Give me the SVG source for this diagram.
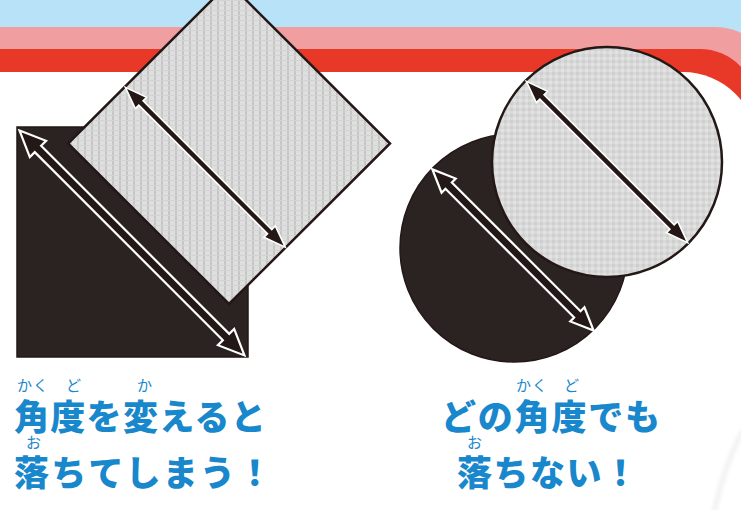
<svg xmlns="http://www.w3.org/2000/svg" width="741" height="510" viewBox="0 0 741 510">
<style>
.dark{fill:#2b2322;stroke:#231815;stroke-width:1.5}
.lite-sq{fill:url(#texSq);stroke:#231815;stroke-width:2.5;stroke-linejoin:miter}
.lite-ci{fill:url(#texCi);stroke:#231815;stroke-width:2.5}
.arrHollow{fill:#231815;stroke:#ffffff;stroke-width:2.2;stroke-linejoin:miter}
.arrSolid{fill:#231815;stroke:#ffffff;stroke-width:1.6;stroke-linejoin:miter}
.main{font-family:"Noto Sans CJK JP","Noto Sans CJK SC",sans-serif;font-weight:900;font-size:35px;fill:#1987cc}
.ruby{font-family:"Noto Sans CJK JP","Noto Sans CJK SC",sans-serif;font-weight:400;font-size:15px;fill:#1987cc}
</style>
<defs>
<pattern id="texSq" width="7" height="5" patternUnits="userSpaceOnUse">
<rect width="7" height="5" fill="#dedede"/>
<rect x="0" y="0" width="2" height="5" fill="#c6c6c6"/>
<rect x="0" y="0" width="7" height="1" fill="#d3d3d3"/>
</pattern>
<pattern id="texCi" width="6" height="6" patternUnits="userSpaceOnUse">
<rect width="6" height="6" fill="#d9d9d9"/>
<rect x="0" y="0" width="3" height="3" fill="#cfcfcf"/>
<rect x="3" y="3" width="3" height="3" fill="#e2e2e2"/>
</pattern>
<filter id="soft" x="-50%" y="-50%" width="200%" height="200%">
<feGaussianBlur stdDeviation="2"/>
</filter>
</defs>

<g id="background">
<rect x="0" y="0" width="741" height="510" fill="#ffffff"/>
<rect x="0" y="0" width="741" height="140" fill="#b8e2f8"/>
<path d="M0,27 H715 A60,60 0 0 1 775,87 V510 H0 Z" fill="#f19ea0"/>
<path d="M0,49 H700 A56,56 0 0 1 756,105 V510 H0 Z" fill="#e83828"/>
<path d="M0,72 H683 A74,74 0 0 1 757,146 V510 H0 Z" fill="#ffffff"/>
<path d="M743,430 Q724,466 714,512" fill="none" stroke="#eeeeee" stroke-width="4" filter="url(#soft)"/>
</g>

<g id="square-black">
<rect class="dark" x="17" y="127" width="231" height="230"/>
</g>
<g id="square-gray">
<polygon class="lite-sq" points="229,-17 390,143.5 229,304 68,143.5"/>
</g>

<g id="circle-black">
<circle class="dark" cx="514" cy="248" r="114" stroke="none"/>
</g>
<g id="circle-gray">
<circle class="lite-ci" cx="607" cy="162" r="115"/>
</g>

<g id="arrows">
<path class="arrHollow" transform="translate(132,243) rotate(45)" d="M-159,0 L-133,-11.5 L-133,-4.5 L133,-4.5 L133,-11.5 L159,0 L133,11.5 L133,4.5 L-133,4.5 L-133,11.5 Z"/>
<path class="arrSolid" transform="translate(205.3,167.3) rotate(45)" d="M-113,0 L-91,-8 L-91,-3 L91,-3 L91,-8 L113,0 L91,8 L91,3 L-91,3 L-91,8 Z"/>
<path class="arrHollow" transform="translate(513,250) rotate(45)" d="M-114,0 L-91,-10 L-91,-4.5 L91,-4.5 L91,-10 L114,0 L91,10 L91,4.5 L-91,4.5 L-91,10 Z"/>
<path class="arrSolid" transform="translate(607,162) rotate(45)" d="M-114,0 L-92,-8 L-92,-3 L92,-3 L92,-8 L114,0 L92,8 L92,3 L-92,3 L-92,8 Z"/>
</g>

<g id="label-left">
<text class="ruby" x="17" y="391" letter-spacing="1">かく</text>
<text class="ruby" x="66" y="391">ど</text>
<text class="ruby" x="137" y="391">か</text>
<text class="main" x="14" y="430" letter-spacing="1.3">角度を変えると</text>
<text class="ruby" x="26" y="448">お</text>
<text class="main" x="14" y="486" letter-spacing="2.2">落ちてしまう！</text>
</g>

<g id="label-right">
<text class="ruby" x="516" y="391" letter-spacing="1">かく</text>
<text class="ruby" x="564" y="391">ど</text>
<text class="main" x="441" y="430" letter-spacing="1.8">どの角度でも</text>
<text class="ruby" x="467" y="448">お</text>
<text class="main" x="457" y="486" letter-spacing="1.5">落ちない！</text>
</g>
</svg>
